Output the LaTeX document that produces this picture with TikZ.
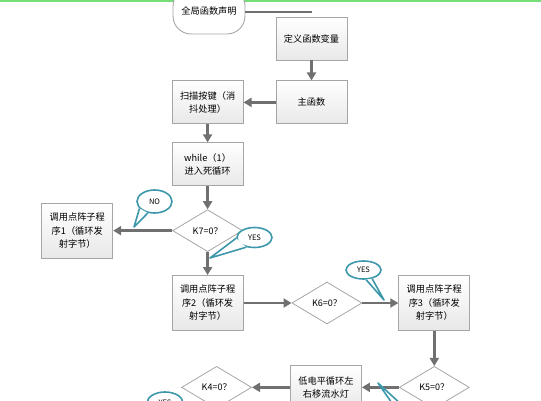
\documentclass[tikz,border=0pt]{standalone}
\usepackage{fontspec}
\setmainfont{Noto Sans CJK SC}
\usepackage{xcolor}
\usepackage{tikz}
\usetikzlibrary{shapes.geometric,arrows.meta,positioning}
\definecolor{cLine}{HTML}{707070}
\definecolor{cEdge}{HTML}{A6A6A6}
\definecolor{cTip}{HTML}{3C98AA}
\definecolor{cTop}{HTML}{77DD77}
\tikzset{
  box/.style    ={rectangle, draw=cEdge, line width=0.9pt, top color=white, bottom color=black!9,
                  align=center, font=\fontsize{9.2}{13.5}\selectfont, inner sep=2pt,
                  minimum width=71pt, minimum height=43pt},
  tall/.style   ={minimum height=55pt},
  dec/.style    ={diamond, draw=cEdge, line width=0.8pt, fill=white, align=center,
                  font=\fontsize{9}{11}\selectfont, inner sep=0pt,
                  minimum width=70pt, minimum height=42pt},
  term/.style   ={rectangle, rounded corners=18pt, draw=cEdge, line width=0.9pt, fill=white,
                  font=\fontsize{9.2}{11}\selectfont, minimum width=72pt, minimum height=46pt},
  fl/.style     ={-{Triangle[length=8pt,width=9pt]}, draw=cLine, line width=2.6pt},
  bubble/.style ={ellipse, draw=cTip, line width=1.6pt, fill=white, inner sep=0pt,
                  font=\fontsize{7.5}{8}\selectfont},
  tail/.style   ={draw=cTip, line width=1.6pt, fill=white, line join=round},
}

\begin{document}
\begin{tikzpicture}[x=1pt,y=-1pt]
  \useasboundingbox (0,0) rectangle (541,401);
  \clip (0,0) rectangle (541,401);
  \draw[cTop, line width=2pt] (0,1) -- (541,1);

  \node[term] (start) at (209,11) {全局函数声明};
  \coordinate (stop) at (312,12);
  \node[box] (def) at (311.5,38.5) {定义函数变量};
  \node[box,below=20pt of def] (main) {主函数};
  \node[box,left=32pt of main] (scan) {扫描按键（消\\抖处理）};
  \node[box,below=18pt of scan] (loop) {while（1）\\进入死循环};
  \node[dec,below=23pt of loop] (k7) {K7=0？};
  \node[box,tall,left=59pt of k7] (sub1) {调用点阵子程\\序1（循环发\\射字节）};
  \node[box,tall,below=23pt of k7] (sub2) {调用点阵子程\\序2（循环发\\射字节）};
  \node[dec,right=48pt of sub2] (k6) {K6=0？};
  \node[box,tall,right=36pt of k6] (sub3) {调用点阵子程\\序3（循环发\\射字节）};
  \node[dec,below=35pt of sub3] (k5) {K5=0？};
  \node[box,left=37pt of k5] (led) {低电平循环左\\右移流水灯};
  \node[dec,left=38pt of led] (k4) {K4=0？};

  \draw[draw=cLine, line width=2.6pt] (start.east |- stop) -- (stop);
  \draw[fl] (def)--(main); \draw[fl] (main)--(scan); \draw[fl] (scan)--(loop);
  \draw[fl] (loop)--(k7); \draw[fl] (k7)--(sub1); \draw[fl] (k7)--(sub2);
  \draw[fl] (sub2)--(k6); \draw[fl] (k6)--(sub3); \draw[fl] (sub3)--(k5);
  \draw[fl] (k5)--(led); \draw[fl] (led)--(k4);

  % callouts
  \node[bubble, minimum width=35pt, minimum height=23pt] (no7) at (154.5,201.5) {NO};
  \coordinate (no7tip) at (134,227);
  \filldraw[tail] (no7.205) -- (no7tip) -- (no7.240);
  \node[bubble, minimum width=35pt, minimum height=20pt] (yes7) at (254.5,237.5) {YES};
  \coordinate (yes7tip) at (210,258);
  \filldraw[tail] (yes7.182) -- (yes7tip) -- (yes7.230);
  \node[bubble, minimum width=35pt, minimum height=18pt] (yes6) at (363.5,270) {YES};
  \coordinate (yes6tip) at (384,300);
  \filldraw[tail] (yes6.285) -- (yes6tip) -- (yes6.315);
  \coordinate (yes5tip) at (378,383);
  \coordinate (yes5a) at (394,406);
  \coordinate (yes5b) at (403,406);
  \draw[tail, fill=none] (yes5a) -- (yes5tip) -- (yes5b);
  \node[bubble, minimum width=36pt, minimum height=22pt] (yes4) at (165,403) {YES};
\end{tikzpicture}
\end{document}
